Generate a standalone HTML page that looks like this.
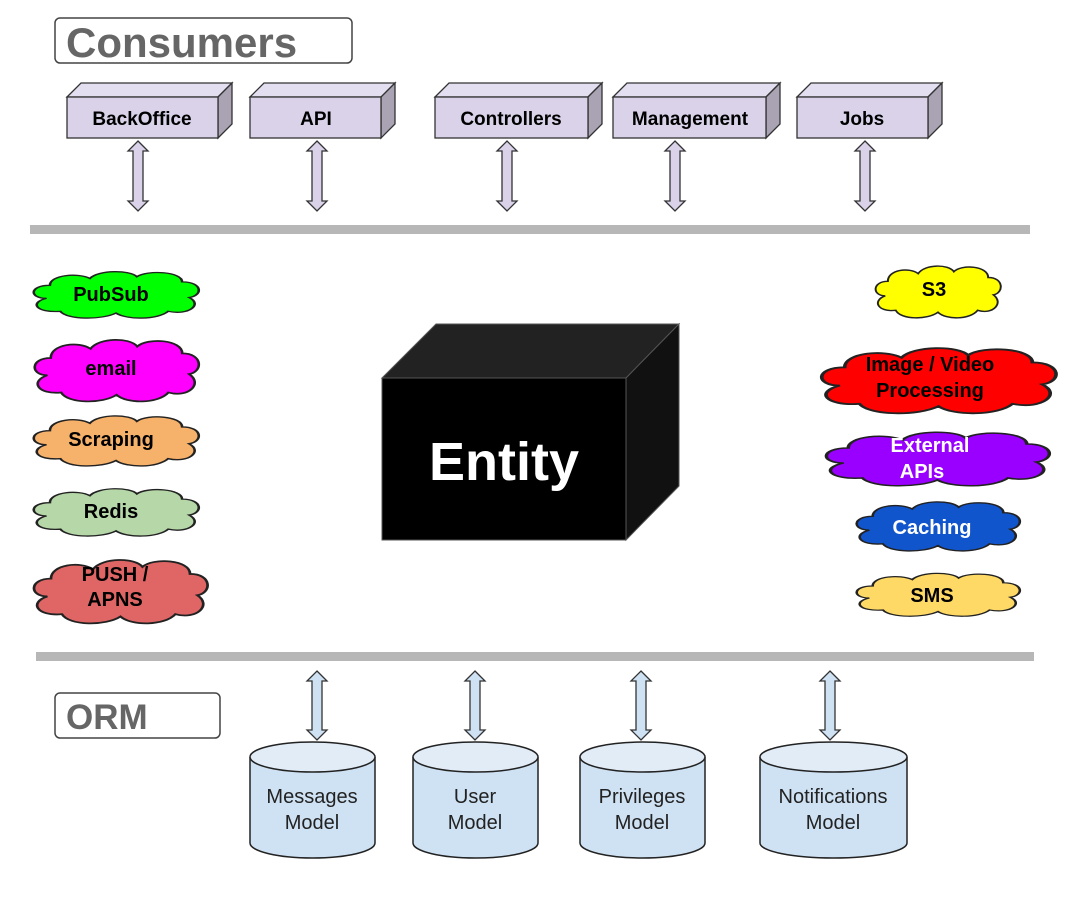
<!DOCTYPE html>
<html><head><meta charset="utf-8"><style>
html,body{margin:0;padding:0;background:#fff;}
svg{display:block;font-family:"Liberation Sans",Arial,sans-serif;}
</style></head><body>
<svg width="1071" height="900" viewBox="0 0 1071 900" xmlns="http://www.w3.org/2000/svg">
<defs>
<path id="cl" d="M10,35 C0,35 0,20 12,20 C12,8 28,5 35,12 C40,2 58,2 62,10 C68,2 88,4 88,16 C100,16 100,32 92,34 C100,42 92,55 80,50 C74,60 56,60 50,52 C42,60 22,60 18,50 C4,52 0,40 10,35 Z"/>
</defs>
<rect x="55" y="18" width="297" height="45" rx="5" fill="#fff" stroke="#444" stroke-width="1.5"/>
<text x="66" y="57" font-size="42" font-weight="bold" fill="#666">Consumers</text>

<g stroke="#333" stroke-width="1.3" font-size="19" font-weight="bold" text-anchor="middle">
 <polygon points="67,97 81,83 232,83 218,97" fill="#e4dff0"/><polygon points="218,97 232,83 232,124 218,138" fill="#a9a3b4"/><rect x="67" y="97" width="151" height="41" fill="#d9d2e9"/>
 <text x="142" y="125" stroke="none" fill="#000">BackOffice</text>
 <polygon points="250,97 264,83 395,83 381,97" fill="#e4dff0"/><polygon points="381,97 395,83 395,124 381,138" fill="#a9a3b4"/><rect x="250" y="97" width="131" height="41" fill="#d9d2e9"/>
 <text x="316" y="125" stroke="none" fill="#000">API</text>
 <polygon points="435,97 449,83 602,83 588,97" fill="#e4dff0"/><polygon points="588,97 602,83 602,124 588,138" fill="#a9a3b4"/><rect x="435" y="97" width="153" height="41" fill="#d9d2e9"/>
 <text x="511" y="125" stroke="none" fill="#000">Controllers</text>
 <polygon points="613,97 627,83 780,83 766,97" fill="#e4dff0"/><polygon points="766,97 780,83 780,124 766,138" fill="#a9a3b4"/><rect x="613" y="97" width="153" height="41" fill="#d9d2e9"/>
 <text x="690" y="125" stroke="none" fill="#000">Management</text>
 <polygon points="797,97 811,83 942,83 928,97" fill="#e4dff0"/><polygon points="928,97 942,83 942,124 928,138" fill="#a9a3b4"/><rect x="797" y="97" width="131" height="41" fill="#d9d2e9"/>
 <text x="862" y="125" stroke="none" fill="#000">Jobs</text>
</g>

<g fill="#d9d2e9" stroke="#333" stroke-width="1.3">
 <path d="M138,141 l10,10 h-5 v50 h5 l-10,10 l-10,-10 h5 v-50 h-5 z"/>
 <path d="M317,141 l10,10 h-5 v50 h5 l-10,10 l-10,-10 h5 v-50 h-5 z"/>
 <path d="M507,141 l10,10 h-5 v50 h5 l-10,10 l-10,-10 h5 v-50 h-5 z"/>
 <path d="M675,141 l10,10 h-5 v50 h5 l-10,10 l-10,-10 h5 v-50 h-5 z"/>
 <path d="M865,141 l10,10 h-5 v50 h5 l-10,10 l-10,-10 h5 v-50 h-5 z"/>
</g>

<rect x="30" y="225" width="1000" height="9" fill="#b7b7b7"/>
<rect x="36" y="652" width="998" height="9" fill="#b7b7b7"/>

<polygon points="382,378 436,324 679,324 626,378" fill="#222" stroke="#555" stroke-width="1"/>
<polygon points="626,378 679,324 679,486 626,540" fill="#111" stroke="#555" stroke-width="1"/>
<rect x="382" y="378" width="244" height="162" fill="#000" stroke="#555" stroke-width="1"/>
<text x="504" y="480" font-size="54" font-weight="bold" fill="#fff" text-anchor="middle">Entity</text>

<g stroke="#222" stroke-width="1.5">
 <svg x="29" y="268" width="174" height="52" viewBox="0 0 100 60" preserveAspectRatio="none" overflow="visible"><use href="#cl" fill="#00ff00" vector-effect="non-scaling-stroke"/></svg>
 <svg x="30" y="335" width="173" height="69" viewBox="0 0 100 60" preserveAspectRatio="none" overflow="visible"><use href="#cl" fill="#ff00ff" vector-effect="non-scaling-stroke"/></svg>
 <svg x="29" y="412" width="174" height="56" viewBox="0 0 100 60" preserveAspectRatio="none" overflow="visible"><use href="#cl" fill="#f6b26b" vector-effect="non-scaling-stroke"/></svg>
 <svg x="29" y="485" width="174" height="53" viewBox="0 0 100 60" preserveAspectRatio="none" overflow="visible"><use href="#cl" fill="#b6d7a8" vector-effect="non-scaling-stroke"/></svg>
 <svg x="29" y="555" width="183" height="71" viewBox="0 0 100 60" preserveAspectRatio="none" overflow="visible"><use href="#cl" fill="#e06666" vector-effect="non-scaling-stroke"/></svg>
 <svg x="872" y="262" width="132" height="58" viewBox="0 0 100 60" preserveAspectRatio="none" overflow="visible"><use href="#cl" fill="#ffff00" vector-effect="non-scaling-stroke"/></svg>
 <svg x="815" y="343" width="247" height="73" viewBox="0 0 100 60" preserveAspectRatio="none" overflow="visible"><use href="#cl" fill="#ff0000" vector-effect="non-scaling-stroke"/></svg>
 <svg x="820" y="428" width="235" height="60" viewBox="0 0 100 60" preserveAspectRatio="none" overflow="visible"><use href="#cl" fill="#9900ff" vector-effect="non-scaling-stroke"/></svg>
 <svg x="852" y="498" width="172" height="55" viewBox="0 0 100 60" preserveAspectRatio="none" overflow="visible"><use href="#cl" fill="#1155cc" vector-effect="non-scaling-stroke"/></svg>
 <svg x="852" y="570" width="172" height="48" viewBox="0 0 100 60" preserveAspectRatio="none" overflow="visible"><use href="#cl" fill="#ffd966" vector-effect="non-scaling-stroke"/></svg>
</g>
<g font-size="20" font-weight="bold" text-anchor="middle" fill="#000">
 <text x="111" y="301">PubSub</text>
 <text x="111" y="375">email</text>
 <text x="111" y="446">Scraping</text>
 <text x="111" y="518">Redis</text>
 <text x="115" y="581">PUSH /</text><text x="115" y="606">APNS</text>
 <text x="934" y="296">S3</text>
 <text x="930" y="371">Image / Video</text><text x="930" y="397">Processing</text>
 <text x="930" y="452" fill="#fff">External</text><text x="922" y="478" fill="#fff">APIs</text>
 <text x="932" y="534" fill="#fff">Caching</text>
 <text x="932" y="602">SMS</text>
</g>

<rect x="55" y="693" width="165" height="45" rx="5" fill="#fff" stroke="#444" stroke-width="1.5"/>
<text x="66" y="729" font-size="35" font-weight="bold" fill="#666">ORM</text>

<g fill="#cfe2f3" stroke="#333" stroke-width="1.3">
 <path d="M317,671 l10,10 h-5 v49 h5 l-10,10 l-10,-10 h5 v-49 h-5 z"/>
 <path d="M475,671 l10,10 h-5 v49 h5 l-10,10 l-10,-10 h5 v-49 h-5 z"/>
 <path d="M641,671 l10,10 h-5 v49 h5 l-10,10 l-10,-10 h5 v-49 h-5 z"/>
 <path d="M830,671 l10,10 h-5 v49 h5 l-10,10 l-10,-10 h5 v-49 h-5 z"/>
</g>

<g stroke="#222" stroke-width="1.5">
 <path d="M250,757 v86 a62.5,15 0 0 0 125,0 v-86" fill="#cfe2f3"/><ellipse cx="312.5" cy="757" rx="62.5" ry="15" fill="#e1ecf7"/>
 <path d="M413,757 v86 a62.5,15 0 0 0 125,0 v-86" fill="#cfe2f3"/><ellipse cx="475.5" cy="757" rx="62.5" ry="15" fill="#e1ecf7"/>
 <path d="M580,757 v86 a62.5,15 0 0 0 125,0 v-86" fill="#cfe2f3"/><ellipse cx="642.5" cy="757" rx="62.5" ry="15" fill="#e1ecf7"/>
 <path d="M760,757 v86 a73.5,15 0 0 0 147,0 v-86" fill="#cfe2f3"/><ellipse cx="833.5" cy="757" rx="73.5" ry="15" fill="#e1ecf7"/>
</g>
<g font-size="20" text-anchor="middle" fill="#222">
 <text x="312" y="803">Messages</text><text x="312" y="829">Model</text>
 <text x="475" y="803">User</text><text x="475" y="829">Model</text>
 <text x="642" y="803">Privileges</text><text x="642" y="829">Model</text>
 <text x="833" y="803">Notifications</text><text x="833" y="829">Model</text>
</g>
</svg>
</body></html>
